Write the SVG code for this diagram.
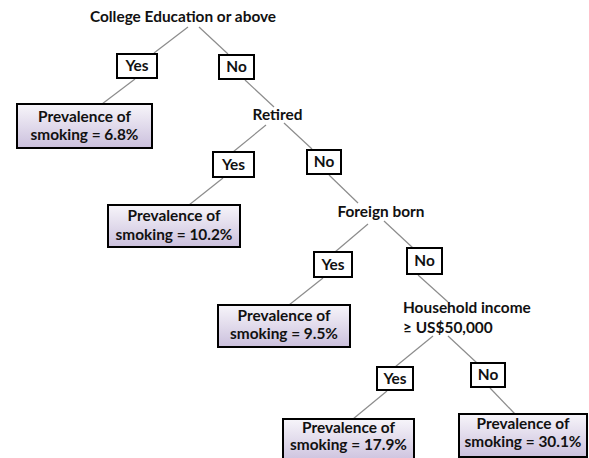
<svg xmlns="http://www.w3.org/2000/svg" width="589" height="458" viewBox="0 0 589 458">
<defs>
<linearGradient id="pg" x1="0" y1="0" x2="0" y2="1">
<stop offset="0" stop-color="#f7f5fa"/>
<stop offset="1" stop-color="#cbc0dd"/>
</linearGradient>
<style>
text{font-family:Lato,"Open Sans","Liberation Sans",sans-serif;font-weight:bold;font-size:15.4px;fill:#111}
.c{text-anchor:middle}
.lab{fill:#fff;stroke:#000;stroke-width:2}
.prev{fill:url(#pg);stroke:#000;stroke-width:2}
.conn line{stroke:#8c8c8c;stroke-width:1.2}
</style>
</defs>
<rect width="589" height="458" fill="#fff"/>
<g id="connectors" class="conn">
<line x1="188" y1="27" x2="154" y2="53"/>
<line x1="199" y1="27" x2="228" y2="54"/>
<line x1="135" y1="79" x2="102" y2="104"/>
<line x1="245" y1="80" x2="274" y2="107"/>
<line x1="266" y1="125" x2="233" y2="152"/>
<line x1="284" y1="123" x2="312" y2="149"/>
<line x1="223" y1="178" x2="189" y2="205"/>
<line x1="329" y1="175" x2="358" y2="203"/>
<line x1="368" y1="224" x2="335" y2="252"/>
<line x1="384" y1="221" x2="413" y2="248"/>
<line x1="323" y1="278" x2="289" y2="305"/>
<line x1="418" y1="275" x2="448" y2="302"/>
<line x1="433" y1="336" x2="395" y2="367"/>
<line x1="448" y1="336" x2="477" y2="363"/>
<line x1="387" y1="391" x2="353" y2="419"/>
<line x1="490" y1="388" x2="515" y2="414"/>
</g>
<g id="q1"><text class="c" x="183" y="22">College Education or above</text></g>
<g id="yes1"><rect class="lab" x="117" y="54" width="40" height="24"/><text class="c" x="137" y="71">Yes</text></g>
<g id="no1"><rect class="lab" x="219" y="55" width="35" height="24"/><text class="c" x="236.5" y="72">No</text></g>
<g id="prev1"><rect class="prev" x="17" y="104" width="135" height="44"/><text class="c" x="84.5" y="122">Prevalence of</text><text class="c" x="84.5" y="140">smoking = 6.8%</text></g>
<g id="q2"><text class="c" x="277.5" y="120">Retired</text></g>
<g id="yes2"><rect class="lab" x="213" y="152" width="41" height="25"/><text class="c" x="233.5" y="170">Yes</text></g>
<g id="no2"><rect class="lab" x="307" y="150" width="34" height="24"/><text class="c" x="324" y="167">No</text></g>
<g id="prev2"><rect class="prev" x="108" y="205" width="132" height="42"/><text class="c" x="174" y="221">Prevalence of</text><text class="c" x="174" y="240">smoking = 10.2%</text></g>
<g id="q3"><text class="c" x="381" y="217">Foreign born</text></g>
<g id="yes3"><rect class="lab" x="314" y="252" width="38" height="25"/><text class="c" x="333" y="270">Yes</text></g>
<g id="no3"><rect class="lab" x="407" y="248" width="35" height="26"/><text class="c" x="424.5" y="266">No</text></g>
<g id="prev3"><rect class="prev" x="218" y="305" width="132" height="42"/><text class="c" x="284" y="321">Prevalence of</text><text class="c" x="284" y="339">smoking = 9.5%</text></g>
<g id="q4"><text x="403" y="313">Household income</text><text x="403" y="333">≥ US$50,000</text></g>
<g id="yes4"><rect class="lab" x="377" y="367" width="36" height="23"/><text class="c" x="395" y="384">Yes</text></g>
<g id="no4"><rect class="lab" x="471" y="363" width="34" height="24"/><text class="c" x="488" y="380">No</text></g>
<g id="prev4"><rect class="prev" x="283" y="419" width="131" height="44"/><text class="c" x="348.5" y="433">Prevalence of</text><text class="c" x="348.5" y="450">smoking = 17.9%</text></g>
<g id="prev5"><rect class="prev" x="459" y="414" width="128" height="43"/><text class="c" x="523" y="429">Prevalence of</text><text class="c" x="523" y="447">smoking = 30.1%</text></g>
</svg>
